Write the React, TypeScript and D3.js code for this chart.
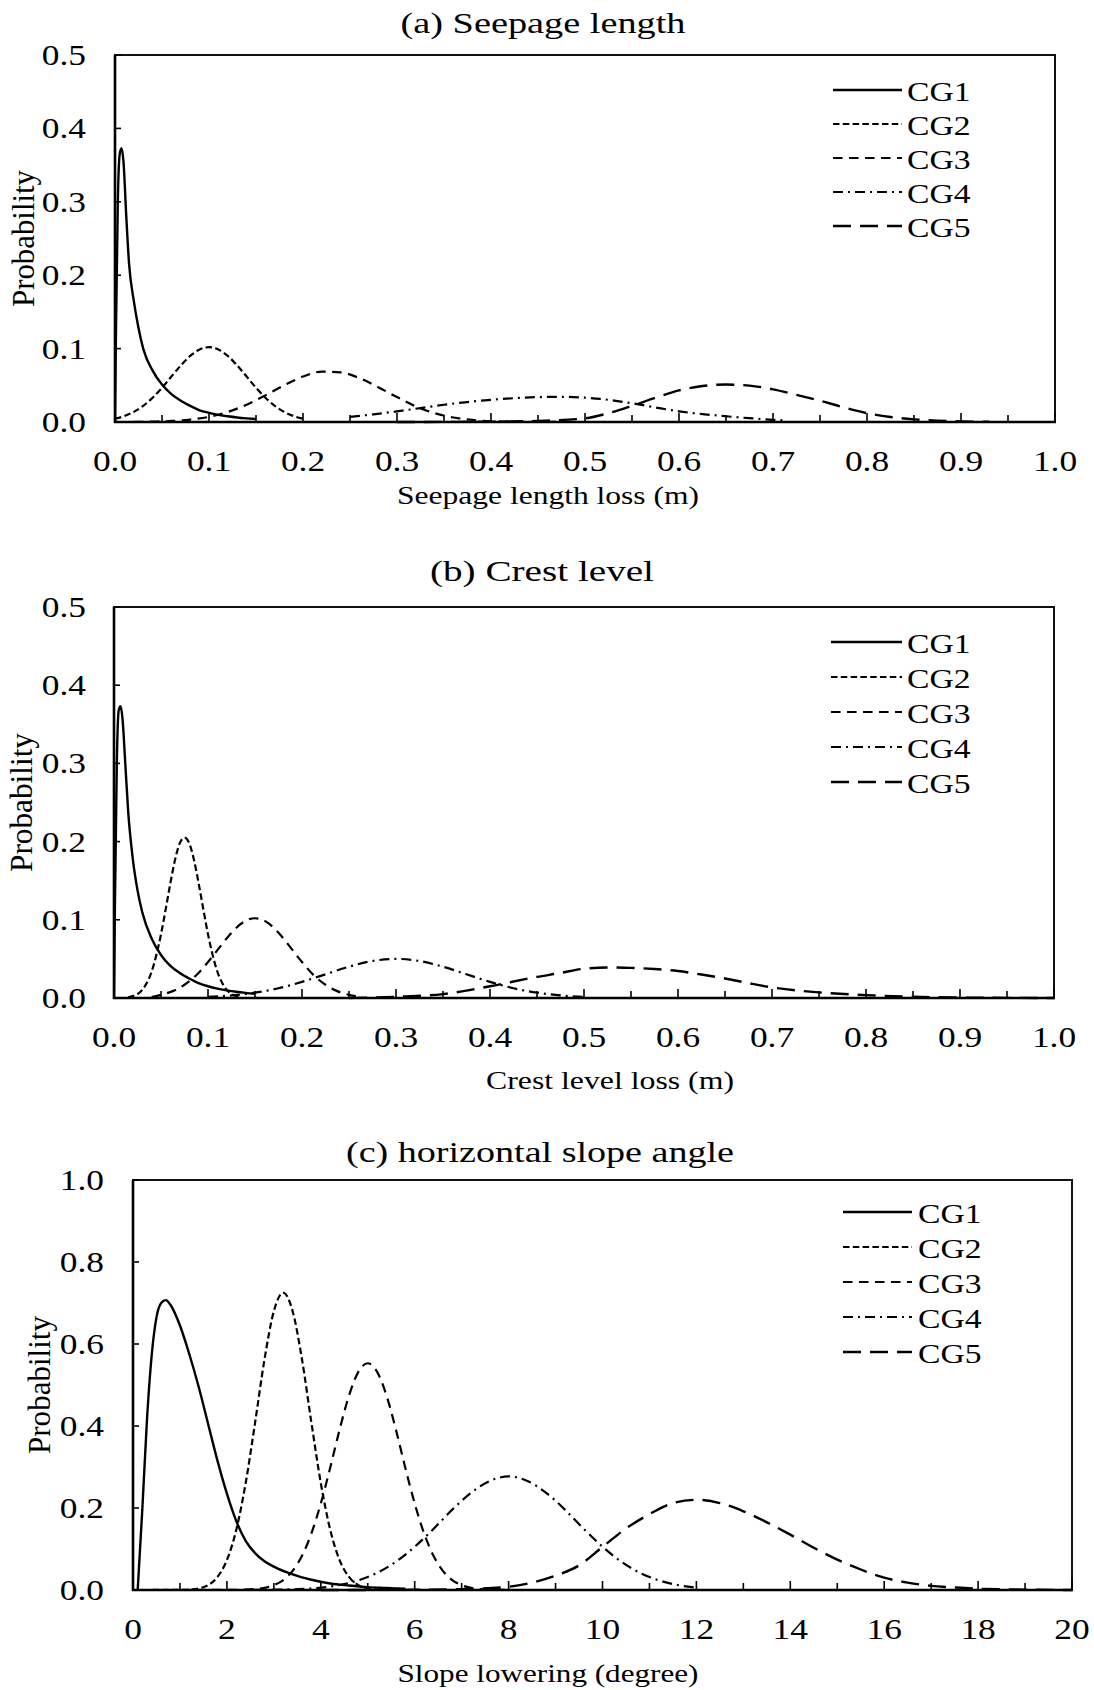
import React from "react";
import * as d3 from "d3";

type Pt = [number, number];

const groups = ["CG1", "CG2", "CG3", "CG4", "CG5"];

// (a) Seepage length loss (m)
const seepCG1: Pt[] = [[0,0],[0.001,0.12],[0.003,0.30],[0.005,0.365],[0.007,0.373],[0.009,0.355],[0.012,0.28],[0.015,0.215],[0.02,0.165],[0.025,0.128],[0.03,0.1],[0.04,0.07],[0.05,0.051],[0.06,0.038],[0.07,0.029],[0.08,0.022],[0.09,0.016],[0.1,0.0125],[0.11,0.0098],[0.12,0.0078],[0.13,0.0062],[0.14,0.005],[0.15,0.004]];
const seepCG2: Pt[] = [[0,0.0045],[0.01,0.0081],[0.02,0.0138],[0.03,0.022],[0.04,0.0331],[0.05,0.0467],[0.06,0.0619],[0.07,0.077],[0.08,0.09],[0.09,0.0988],[0.1,0.102],[0.11,0.0988],[0.12,0.09],[0.13,0.077],[0.14,0.0619],[0.15,0.0467],[0.16,0.0331],[0.17,0.022],[0.18,0.0138],[0.19,0.0081],[0.2,0.0045]];
const seepCG3: Pt[] = [[0.02,0.0001],[0.04,0.0005],[0.06,0.0014],[0.08,0.0033],[0.1,0.007],[0.12,0.0137],[0.14,0.0236],[0.16,0.0363],[0.18,0.05],[0.2,0.0619],[0.22,0.0686],[0.24,0.0676],[0.26,0.0598],[0.28,0.0474],[0.3,0.034],[0.32,0.0213],[0.34,0.0121],[0.36,0.0061],[0.38,0.0028],[0.4,0.0011],[0.44,0.0002],[0.5,0]];
const seepCG4: Pt[] = [[0.25,0.007],[0.275,0.0105],[0.3,0.0145],[0.325,0.019],[0.35,0.0235],[0.375,0.0272],[0.4,0.0302],[0.425,0.0325],[0.45,0.0339],[0.475,0.0343],[0.5,0.0332],[0.525,0.0302],[0.55,0.0255],[0.575,0.0198],[0.6,0.0145],[0.625,0.0108],[0.65,0.0078],[0.675,0.0052],[0.7,0.003],[0.71,0.0024]];
const seepCG5: Pt[] = [[0.3,0],[0.4,0.0004],[0.45,0.0015],[0.5,0.005],[0.525,0.012],[0.55,0.022],[0.575,0.033],[0.6,0.043],[0.625,0.049],[0.65,0.051],[0.675,0.0495],[0.7,0.0445],[0.725,0.037],[0.75,0.029],[0.775,0.02],[0.8,0.012],[0.825,0.0068],[0.85,0.0036],[0.875,0.0018],[0.9,0.0008],[0.93,0.0003]];

// (b) Crest level loss (m)
const crestCG1: Pt[] = [[0,0],[0.001,0.12],[0.003,0.30],[0.005,0.368],[0.007,0.373],[0.009,0.358],[0.012,0.3],[0.015,0.24],[0.02,0.178],[0.025,0.138],[0.03,0.11],[0.04,0.076],[0.05,0.055],[0.06,0.041],[0.07,0.032],[0.08,0.025],[0.09,0.019],[0.1,0.015],[0.11,0.012],[0.12,0.0098],[0.13,0.008],[0.14,0.0066],[0.15,0.0055]];
const crestCG2: Pt[] = [[0.015,0.0008],[0.02,0.0024],[0.03,0.0103],[0.04,0.0336],[0.05,0.0815],[0.055,0.1136],[0.06,0.147],[0.065,0.177],[0.07,0.198],[0.075,0.205],[0.08,0.198],[0.085,0.177],[0.09,0.147],[0.095,0.1136],[0.1,0.0815],[0.11,0.0336],[0.12,0.0103],[0.13,0.0024],[0.135,0.0008]];
const crestCG3: Pt[] = [[0.04,0.0012],[0.05,0.004],[0.0625,0.0088],[0.075,0.0169],[0.0875,0.029],[0.1,0.046],[0.1125,0.065],[0.125,0.0835],[0.1375,0.097],[0.15,0.102],[0.1625,0.097],[0.175,0.0835],[0.1875,0.065],[0.2,0.046],[0.2125,0.029],[0.225,0.0169],[0.2375,0.0088],[0.25,0.004],[0.26,0.0018]];
const crestCG4: Pt[] = [[0.1,0.0014],[0.125,0.0033],[0.15,0.0068],[0.175,0.0125],[0.2,0.0206],[0.225,0.0303],[0.25,0.04],[0.275,0.0473],[0.3,0.05],[0.325,0.0473],[0.35,0.04],[0.375,0.0303],[0.4,0.0206],[0.425,0.0125],[0.45,0.0068],[0.475,0.0033],[0.5,0.0014]];
const crestCG5: Pt[] = [[0.25,0],[0.3,0.0015],[0.35,0.005],[0.4,0.015],[0.45,0.027],[0.475,0.032],[0.5,0.0375],[0.525,0.039],[0.55,0.0385],[0.575,0.037],[0.6,0.0345],[0.625,0.03],[0.65,0.025],[0.675,0.019],[0.7,0.0135],[0.75,0.0072],[0.8,0.0037],[0.85,0.0016],[0.9,0.0006],[0.95,0.0002],[1.0,0]];

// (c) Slope lowering (degree)
const slopeCG1: Pt[] = [[0.1,0],[0.2,0.2],[0.3,0.42],[0.4,0.575],[0.5,0.665],[0.6,0.7],[0.7,0.707],[0.8,0.695],[1.0,0.645],[1.2,0.575],[1.4,0.495],[1.6,0.405],[1.8,0.315],[2.0,0.235],[2.2,0.168],[2.4,0.12],[2.6,0.09],[2.8,0.07],[3.0,0.057],[3.4,0.038],[3.8,0.025],[4.2,0.016],[4.6,0.011],[5.0,0.007],[5.4,0.005],[5.8,0.003]];
const slopeCG2: Pt[] = [[0,0],[1.0,0.0003],[1.2,0.0012],[1.4,0.004],[1.6,0.012],[1.8,0.032],[2.0,0.073],[2.2,0.147],[2.4,0.261],[2.6,0.408],[2.8,0.562],[3.0,0.68],[3.2,0.725],[3.4,0.68],[3.6,0.562],[3.8,0.408],[4.0,0.261],[4.2,0.147],[4.4,0.073],[4.6,0.032],[4.8,0.012],[5.0,0.004],[5.2,0.0012]];
const slopeCG3: Pt[] = [[1.0,0],[2.0,0.0003],[2.6,0.0021],[2.8,0.0052],[3.0,0.0117],[3.2,0.0243],[3.4,0.0468],[3.6,0.0835],[3.8,0.138],[4.0,0.211],[4.2,0.298],[4.4,0.391],[4.6,0.474],[4.8,0.532],[5.0,0.553],[5.2,0.532],[5.4,0.474],[5.6,0.391],[5.8,0.298],[6.0,0.211],[6.2,0.138],[6.4,0.0835],[6.6,0.0468],[6.8,0.0243],[7.0,0.0117],[7.2,0.0052],[7.4,0.0021],[8.0,0.0002]];
const slopeCG4: Pt[] = [[2.5,0.0003],[3.5,0.002],[4.4,0.0122],[4.8,0.0235],[5.2,0.0418],[5.6,0.069],[6.0,0.1056],[6.4,0.149],[6.8,0.196],[7.2,0.237],[7.6,0.266],[8.0,0.277],[8.4,0.266],[8.8,0.237],[9.2,0.196],[9.6,0.149],[10.0,0.1056],[10.4,0.069],[10.8,0.0418],[11.2,0.0235],[11.6,0.0122],[12.0,0.0058]];
const slopeCG5: Pt[] = [[4.0,0],[6.0,0.0005],[7.0,0.002],[8.0,0.008],[8.5,0.018],[9.0,0.035],[9.5,0.06],[10.0,0.105],[10.5,0.15],[11.0,0.185],[11.5,0.212],[12.0,0.22],[12.5,0.212],[13.0,0.192],[13.5,0.165],[14.0,0.135],[14.5,0.103],[15.0,0.074],[15.5,0.05],[16.0,0.03],[16.5,0.018],[17.0,0.01],[17.5,0.006],[18.0,0.003],[19.0,0.001],[20.0,0]];

// ticks
const lossXTicks = [0, 0.1, 0.2, 0.3, 0.4, 0.5, 0.6, 0.7, 0.8, 0.9, 1.0];
const lossXLabels = ["0.0", "0.1", "0.2", "0.3", "0.4", "0.5", "0.6", "0.7", "0.8", "0.9", "1.0"];
const lossXMinor = [0.05, 0.15, 0.25, 0.35, 0.45, 0.55, 0.65, 0.75, 0.85, 0.95];
const lossYTicks = [0, 0.1, 0.2, 0.3, 0.4, 0.5];
const lossYLabels = ["0.0", "0.1", "0.2", "0.3", "0.4", "0.5"];
const slopeXTicks = [0, 2, 4, 6, 8, 10, 12, 14, 16, 18, 20];
const slopeXLabels = ["0", "2", "4", "6", "8", "10", "12", "14", "16", "18", "20"];
const slopeXMinor = [1, 3, 5, 7, 9, 11, 13, 15, 17, 19];
const slopeYTicks = [0, 0.2, 0.4, 0.6, 0.8, 1.0];
const slopeYLabels = ["0.0", "0.2", "0.4", "0.6", "0.8", "1.0"];

const FONT = "Liberation Serif, Times New Roman, Times, serif";
const DASH = ["none", "6.5,3.3", "9.5,6.5", "10,5,2,5", "18,9"];
const LW = [2.4, 2.2, 2.2, 2.2, 2.4];

interface PanelCfg {
  id: string;
  series: Pt[][];
  xDomain: [number, number];
  yDomain: [number, number];
  xTicks: number[];
  xLabels: string[];
  xMinor: number[];
  yTicks: number[];
  yLabels: string[];
  left: number; right: number; top: number; bottom: number;
  title: string; titleX: number; titleY: number; titleW: number;
  xTitle: string; xTitleX: number; xTitleY: number; xTitleW: number;
  yTitleX: number; yTitleLen: number;
  yLabelRight: number; xLabelBase: number;
  legX1: number; legX2: number; legTextX: number; legY0: number; legStep: number;
}

const panels: PanelCfg[] = [
  {
    id: "a", series: [seepCG1, seepCG2, seepCG3, seepCG4, seepCG5],
    xDomain: [0, 1], yDomain: [0, 0.5],
    xTicks: lossXTicks, xLabels: lossXLabels, xMinor: lossXMinor,
    yTicks: lossYTicks, yLabels: lossYLabels,
    left: 115, right: 1055, top: 55, bottom: 422,
    title: "(a) Seepage length", titleX: 543, titleY: 33, titleW: 285,
    xTitle: "Seepage length loss (m)", xTitleX: 548, xTitleY: 504, xTitleW: 302,
    yTitleX: 24, yTitleLen: 137,
    yLabelRight: 86, xLabelBase: 471,
    legX1: 833, legX2: 902, legTextX: 907, legY0: 90, legStep: 34,
  },
  {
    id: "b", series: [crestCG1, crestCG2, crestCG3, crestCG4, crestCG5],
    xDomain: [0, 1], yDomain: [0, 0.5],
    xTicks: lossXTicks, xLabels: lossXLabels, xMinor: lossXMinor,
    yTicks: lossYTicks, yLabels: lossYLabels,
    left: 114, right: 1054, top: 607, bottom: 998,
    title: "(b) Crest level", titleX: 542, titleY: 581, titleW: 224,
    xTitle: "Crest level loss (m)", xTitleX: 610, xTitleY: 1089, xTitleW: 248,
    yTitleX: 22, yTitleLen: 139,
    yLabelRight: 86, xLabelBase: 1047,
    legX1: 831, legX2: 902, legTextX: 907, legY0: 642, legStep: 35,
  },
  {
    id: "c", series: [slopeCG1, slopeCG2, slopeCG3, slopeCG4, slopeCG5],
    xDomain: [0, 20], yDomain: [0, 1],
    xTicks: slopeXTicks, xLabels: slopeXLabels, xMinor: slopeXMinor,
    yTicks: slopeYTicks, yLabels: slopeYLabels,
    left: 133, right: 1072, top: 1180, bottom: 1590,
    title: "(c) horizontal slope angle", titleX: 540, titleY: 1162, titleW: 388,
    xTitle: "Slope lowering (degree)", xTitleX: 548, xTitleY: 1682, xTitleW: 301,
    yTitleX: 40, yTitleLen: 138,
    yLabelRight: 104, xLabelBase: 1639,
    legX1: 843, legX2: 912, legTextX: 918, legY0: 1212, legStep: 35,
  },
];

function Panel({ p }: { p: PanelCfg }) {
  const x = d3.scaleLinear().domain(p.xDomain).range([p.left, p.right]);
  const y = d3.scaleLinear().domain(p.yDomain).range([p.bottom, p.top]);
  const line = d3.line<Pt>().x((d) => x(d[0])).y((d) => y(d[1])).curve(d3.curveMonotoneX);
  const midY = (p.top + p.bottom) / 2;
  return (
    <g>
      <defs>
        <clipPath id={`clip-${p.id}`}>
          <rect x={p.left} y={p.top} width={p.right - p.left} height={p.bottom - p.top + 2} />
        </clipPath>
      </defs>
      <text x={p.titleX} y={p.titleY} textAnchor="middle" fontSize={30} fontFamily={FONT}
        textLength={p.titleW} lengthAdjust="spacingAndGlyphs">{p.title}</text>
      <g clipPath={`url(#clip-${p.id})`}>
        {p.series.map((s, i) => (
          <path key={i} d={line(s) || ""} fill="none" stroke="#000" strokeWidth={LW[i]}
            strokeDasharray={DASH[i]} strokeLinejoin="round" />
        ))}
      </g>
      <rect x={p.left} y={p.top} width={p.right - p.left} height={p.bottom - p.top}
        fill="none" stroke="#111" strokeWidth={2} />
      <line x1={p.left} x2={p.left} y1={p.top} y2={p.bottom + 1} stroke="#000" strokeWidth={2.6} />
      <line x1={p.left - 1} x2={p.right + 1} y1={p.bottom} y2={p.bottom} stroke="#000" strokeWidth={2.6} />
      {p.xTicks.map((t, i) => (
        <g key={`xt${i}`}>
          <line x1={x(t)} x2={x(t)} y1={p.bottom} y2={p.bottom - 9} stroke="#000" strokeWidth={1.6} />
          <text transform={`translate(${x(t)},${p.xLabelBase}) scale(1.18,1)`} textAnchor="middle"
            fontSize={30} fontFamily={FONT}>{p.xLabels[i]}</text>
        </g>
      ))}
      {p.xMinor.map((t, i) => (
        <line key={`xm${i}`} x1={x(t)} x2={x(t)} y1={p.bottom} y2={p.bottom - 7} stroke="#000" strokeWidth={1.6} />
      ))}
      {p.yTicks.map((t, i) => (
        <g key={`yt${i}`}>
          <line x1={p.left} x2={p.left + 6} y1={y(t)} y2={y(t)} stroke="#000" strokeWidth={1.6} />
          <text transform={`translate(${p.yLabelRight},${y(t) + 10}) scale(1.18,1)`} textAnchor="end"
            fontSize={30} fontFamily={FONT}>{p.yLabels[i]}</text>
        </g>
      ))}
      <text x={p.xTitleX} y={p.xTitleY} textAnchor="middle" fontSize={26} fontFamily={FONT}
        textLength={p.xTitleW} lengthAdjust="spacingAndGlyphs">{p.xTitle}</text>
      <g transform={`translate(${p.yTitleX},${midY}) scale(1.25,1) rotate(-90)`}>
        <text x={0} y={8} textAnchor="middle" fontSize={26} fontFamily={FONT}
          textLength={p.yTitleLen} lengthAdjust="spacingAndGlyphs">Probability</text>
      </g>
      {groups.map((g, i) => {
        const ly = p.legY0 + i * p.legStep;
        return (
          <g key={`lg${i}`}>
            <line x1={p.legX1} x2={p.legX2} y1={ly} y2={ly} stroke="#000" strokeWidth={LW[i]}
              strokeDasharray={DASH[i]} />
            <text transform={`translate(${p.legTextX},${ly + 11}) scale(1.27,1)`} fontSize={26.5}
              fontFamily={FONT}>{g}</text>
          </g>
        );
      })}
    </g>
  );
}

export default function App() {
  return (
    <svg width={1094} height={1690} viewBox="0 0 1094 1690"
      style={{ position: "absolute", left: 0, top: 0, display: "block", background: "#fff" }}>
      <rect x={0} y={0} width={1094} height={1690} fill="#fff" />
      {panels.map((p) => <Panel key={p.id} p={p} />)}
    </svg>
  );
}
